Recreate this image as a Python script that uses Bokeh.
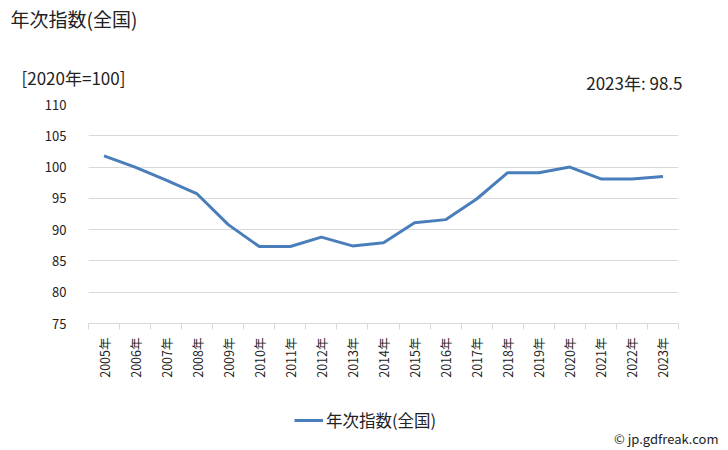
import math
from bokeh.plotting import figure
from bokeh.layouts import column
from bokeh.models import Range1d, FixedTicker, Legend, LegendItem, Label, ColumnDataSource
from bokeh.embed import file_html
from bokeh.resources import INLINE

years = list(range(2005, 2024))
year_labels = [f"{y}年" for y in years]
values = [101.8, 100.0, 97.9, 95.7, 90.8, 87.3, 87.3, 88.8, 87.4, 87.9,
          91.1, 91.6, 94.9, 99.1, 99.1, 100.0, 98.1, 98.1, 98.5]
y_ticks = [75, 80, 85, 90, 95, 100, 105, 110]
series_name = "年次指数(全国)"
title_text = "年次指数(全国)"
unit_text = "[2020年=100]"
last_text = f"{years[-1]}年: {values[-1]}"
credit_text = "© jp.gdfreak.com"

FONT = "Noto Sans CJK JP"
TXT = "#222222"
GRID = "#d9d9d9"
LINE = "#4a7ebb"
W = 728
HEAD_H = 94
FOOT_H = 50


def blank(height):
    f = figure(width=W, height=height, output_backend="svg", toolbar_location=None,
               x_range=Range1d(0, 1), y_range=Range1d(0, 1),
               min_border=0, min_border_left=0, min_border_right=0,
               min_border_top=0, min_border_bottom=0, frame_align=False)
    f.axis.visible = False
    f.grid.visible = False
    f.outline_line_color = None
    return f


def lab(f, text, x, y, size, align="left"):
    f.add_layout(Label(x=x, y=y, x_units="screen", y_units="screen", text=text,
                       text_font=FONT, text_font_size=size, text_color=TXT,
                       text_align=align, text_baseline="middle"))


# ---- header ----
head = blank(HEAD_H)
lab(head, title_text, 10, HEAD_H - 18, "19px")
lab(head, unit_text, 21, HEAD_H - 77, "17px")
lab(head, last_text, 682, HEAD_H - 82, "17px", align="right")

# ---- main chart ----
p = figure(width=W, height=450 - HEAD_H - FOOT_H, output_backend="svg", toolbar_location=None,
           x_range=Range1d(years[0] - 0.5, years[-1] + 0.5),
           y_range=Range1d(y_ticks[0], y_ticks[-1]),
           min_border_left=88, min_border_right=50, min_border_top=104 - HEAD_H,
           min_border_bottom=77, frame_align=False)
p.outline_line_color = None

r = p.line(years, values, line_color=LINE, line_width=3)

xa = p.xaxis[0]
xa.ticker = FixedTicker(ticks=years, minor_ticks=[y - 0.5 for y in years] + [years[-1] + 0.5])
xa.major_label_overrides = {y: l for y, l in zip(years, year_labels)}
xa.major_label_orientation = math.pi / 2
xa.major_tick_line_color = None
xa.major_tick_out = 0
xa.major_tick_in = 0
xa.minor_tick_line_color = GRID
xa.minor_tick_out = 6
xa.minor_tick_in = 0
xa.axis_line_color = GRID
xa.major_label_standoff = 8
xa.major_label_text_font = FONT
xa.major_label_text_font_size = "12.5px"
xa.major_label_text_color = TXT

ya = p.yaxis[0]
ya.ticker = FixedTicker(ticks=y_ticks)
ya.axis_line_color = None
ya.major_tick_line_color = None
ya.minor_tick_line_color = None
ya.major_label_standoff = 16
ya.major_label_text_font = FONT
ya.major_label_text_font_size = "13px"
ya.major_label_text_color = TXT

p.xgrid.grid_line_color = None
p.ygrid.ticker = FixedTicker(ticks=y_ticks)
p.ygrid.grid_line_color = GRID

# ---- footer: legend + credit ----
foot = blank(FOOT_H)
proxy = foot.line(x="x", y="y",
                  source=ColumnDataSource(data=dict(x=[float("nan")], y=[float("nan")])),
                  line_color=LINE, line_width=3)
legend = Legend(items=[LegendItem(label=series_name, renderers=[proxy])],
                location=(294, 18), orientation="horizontal",
                border_line_color=None, background_fill_alpha=0,
                label_text_font=FONT, label_text_font_size="16.5px",
                label_text_color=TXT, glyph_width=29, glyph_height=20,
                label_height=20, label_standoff=3, margin=0, padding=4)
foot.add_layout(legend, "center")
lab(foot, credit_text, 718, FOOT_H - 38, "13px", align="right")

layout = column(head, p, foot, spacing=0)
open("out.html", "w").write(file_html(layout, INLINE))
